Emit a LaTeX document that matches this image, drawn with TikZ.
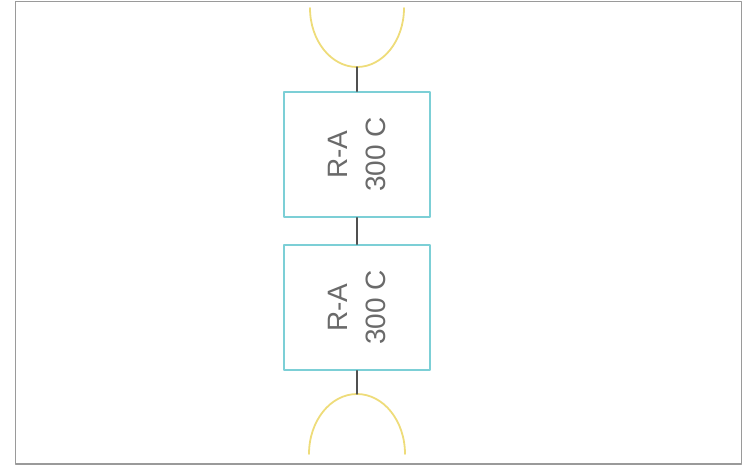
\documentclass[tikz,border=0pt]{standalone}
\usepackage{fontspec}
\setmainfont{Liberation Sans}
\usetikzlibrary{positioning}
\definecolor{framegray}{HTML}{9A9A9A}
\definecolor{boxcyan}{HTML}{7CCFD6}
\definecolor{cupyellow}{HTML}{EEDC7A}
\definecolor{wiregray}{HTML}{505050}
\definecolor{textgray}{HTML}{6A6A6A}

\begin{document}
\begin{tikzpicture}[x=0.5pt, y=-0.5pt, line join=round, line cap=round,
  unit/.style={draw=boxcyan, line width=0.7pt, rotate=90,
    minimum width=62.5pt, minimum height=73pt, inner sep=0pt,
    align=center, text=textgray, font=\fontsize{14}{19}\selectfont},
  wire/.style={draw=wiregray, line width=0.7pt},
  cup/.style={draw=cupyellow, line width=0.9pt}]
\useasboundingbox (0,0) rectangle (743,472);
% frame
\draw[framegray, line width=0.9pt] (15.5,1.5) rectangle (741.5,464);
% the two units
\node[unit] (unitA) at (357,154.5) {R-A\\300 C};
\node[unit] (unitB) at (357,307.5) {R-A\\300 C};
% cups at the ends
\coordinate (topcup) at (357,67);
\coordinate (botcup) at (357,394);
\draw[cup] (310,8) arc (180:0:47 and 59);
\draw[cup] (309,454) arc (180:360:48 and 60);
% wiring
\draw[wire] (topcup) -- (unitA);
\draw[wire] (unitA) -- (unitB);
\draw[wire] (unitB) -- (botcup);
\end{tikzpicture}
\end{document}
